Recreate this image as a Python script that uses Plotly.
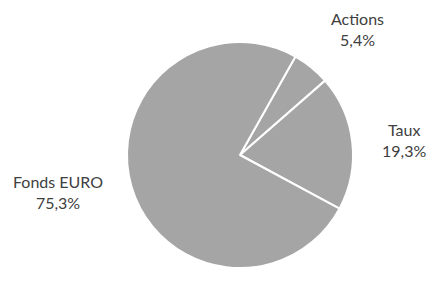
import math
import plotly.graph_objects as go

labels = ["Actions", "Taux", "Fonds EURO"]
values = [5.4, 19.3, 75.3]

W, H = 441, 281
# pie geometry in figure pixels (page has 8px body offset)
cx, cy, r = 232, 147, 113
rotation = 29.4
label_gap_x = 28
label_gap_y = 21

texts = [f"{l}<br>{str(v).replace('.', ',')}%" for l, v in zip(labels, values)]

fig = go.Figure(go.Pie(
    labels=labels,
    values=values,
    textinfo="none",
    sort=False,
    direction="clockwise",
    rotation=rotation,
    marker=dict(colors=["#A5A5A5"] * 3, line=dict(color="white", width=2)),
    showlegend=False,
    domain=dict(x=[(cx - r) / W, (cx + r) / W], y=[1 - (cy + r) / H, 1 - (cy - r) / H]),
))

total = sum(values)
cum = 0.0
for v, t in zip(values, texts):
    mid = rotation + (cum + v / 2) / total * 360
    cum += v
    a = math.radians(mid)
    dx, dy = math.sin(a), -math.cos(a)
    px, py = cx + (r + label_gap_x) * dx, cy + (r + label_gap_y) * dy
    xa = "left" if dx > 0.3 else ("right" if dx < -0.3 else "center")
    ya = "bottom" if dy < -0.3 else ("top" if dy > 0.3 else "middle")
    fig.add_annotation(
        x=px / W, y=1 - py / H, xref="paper", yref="paper",
        text=t, showarrow=False, xanchor=xa, yanchor=ya, align="center",
        font=dict(family="Lato", size=16, color="#404040"),
    )

fig.update_layout(
    width=W, height=H,
    margin=dict(l=0, r=0, t=0, b=0),
    paper_bgcolor="white",
    plot_bgcolor="white",
)
fig.write_html("out.html")
